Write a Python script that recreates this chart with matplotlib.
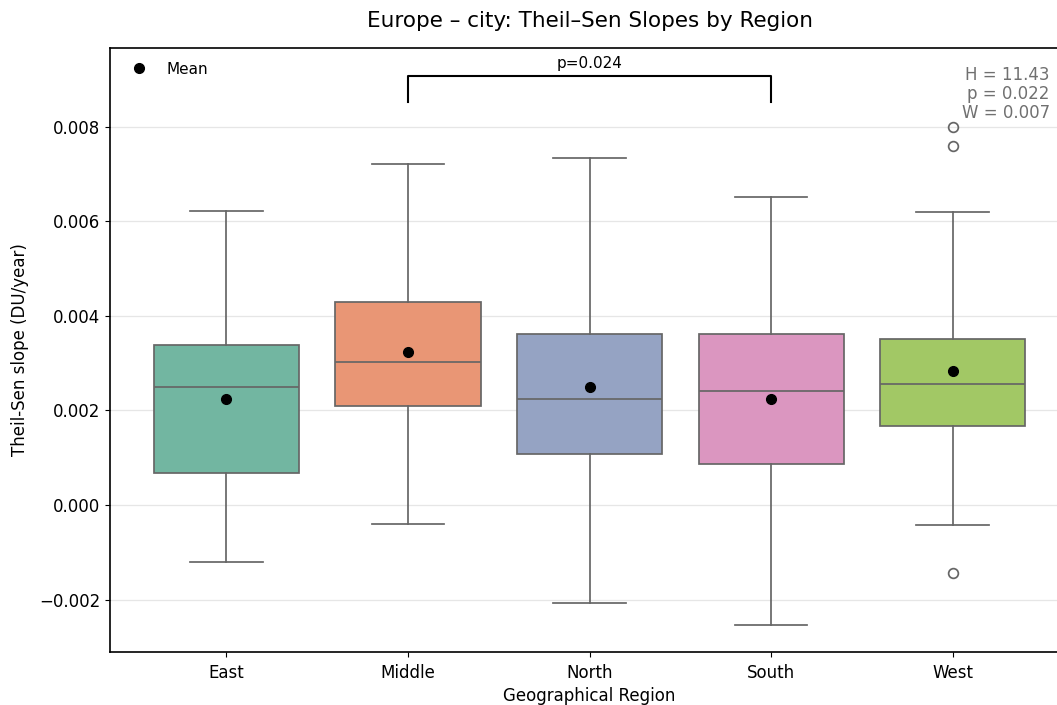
import matplotlib
matplotlib.use('Agg')
import matplotlib.pyplot as plt
from matplotlib.lines import Line2D
import seaborn as sns
import numpy as np

# Box statistics
regions = ['East', 'Middle', 'North', 'South', 'West']
whislo = [-0.00121, -0.00040, -0.00207, -0.00254, -0.00042]
q1 = [0.00068, 0.00210, 0.00108, 0.00087, 0.00167]
medians = [0.00250, 0.00303, 0.00224, 0.00242, 0.00257]
q3 = [0.00339, 0.00430, 0.00362, 0.00362, 0.00351]
whishi = [0.00622, 0.00721, 0.00734, 0.00651, 0.00620]
means = [0.00224, 0.00323, 0.00250, 0.00225, 0.00284]
fliers = [[], [], [], [], [0.00800, 0.00760, -0.00143]]

bracket_pair = ('Middle', 'South')
bracket_label = 'p=0.024'
stats_text = 'H = 11.43\np = 0.022\nW = 0.007'

palette = [sns.desaturate(c, 0.75) for c in sns.color_palette('Set2', len(regions))]
edge = '#666666'

fig = plt.figure(figsize=(10.57, 7.05), dpi=100)
ax = fig.add_axes([0.1041, 0.0752, 0.9073, 0.8567])

bxpstats = []
for i, name in enumerate(regions):
    bxpstats.append(dict(label=name, whislo=whislo[i], q1=q1[i], med=medians[i],
                         q3=q3[i], whishi=whishi[i], fliers=fliers[i], mean=means[i]))

bp = ax.bxp(bxpstats, positions=np.arange(len(regions)), widths=0.8,
            patch_artist=True, showmeans=False, showfliers=True,
            boxprops=dict(edgecolor=edge, linewidth=1.25),
            medianprops=dict(color=edge, linewidth=1.25),
            whiskerprops=dict(color=edge, linewidth=1.25),
            capprops=dict(color=edge, linewidth=1.25),
            flierprops=dict(marker='o', markerfacecolor='none', markeredgecolor=edge,
                            markersize=7, markeredgewidth=1.25))
for patch, c in zip(bp['boxes'], palette):
    patch.set_facecolor(c)
for cap in bp['caps']:
    mid = cap.get_xdata().mean()
    cap.set_xdata([mid - 0.2, mid + 0.2])

ax.plot(np.arange(len(regions)), means, 'o', color='black', markersize=7, zorder=5)

ax.set_xlim(-0.64, 4.64)
ax.set_ylim(-0.00311, 0.00967)
ax.set_yticks([-0.002, 0.000, 0.002, 0.004, 0.006, 0.008])
ax.set_yticklabels(['\u22120.002', '0.000', '0.002', '0.004', '0.006', '0.008'])
ax.set_xticks(np.arange(len(regions)))
ax.set_xticklabels(regions)
ax.tick_params(labelsize=12)
ax.tick_params(axis='x', pad=5)
ax.yaxis.grid(True, color='#e6e6e6', linewidth=0.9)
ax.set_axisbelow(True)
for s in ax.spines.values():
    s.set_linewidth(1.2)

ax.set_xlabel('Geographical Region', fontsize=12, labelpad=4)
ax.set_ylabel('Theil-Sen slope (DU/year)', fontsize=12, labelpad=7)
ax.set_title('Europe \u2013 city: Theil\u2013Sen Slopes by Region', fontsize=15.5, pad=15)

# significance bracket
x1, x2 = regions.index(bracket_pair[0]), regions.index(bracket_pair[1])
y_top, y_leg = 0.00908, 0.00853
ax.plot([x1, x1, x2, x2], [y_leg, y_top, y_top, y_leg], color='black', linewidth=1.5)
ax.text((x1 + x2) / 2, y_top + 0.0001, bracket_label, ha='center', va='bottom', fontsize=11)

ax.text(0.98, 0.97, stats_text, transform=ax.transAxes, ha='right', va='top',
        fontsize=12, color='#707070', linespacing=1.05)

handle = Line2D([], [], marker='o', color='black', linestyle='none', markersize=7)
ax.legend([handle], ['Mean'], loc='upper left', frameon=False, fontsize=11)

fig.savefig('out.png', dpi=100)
